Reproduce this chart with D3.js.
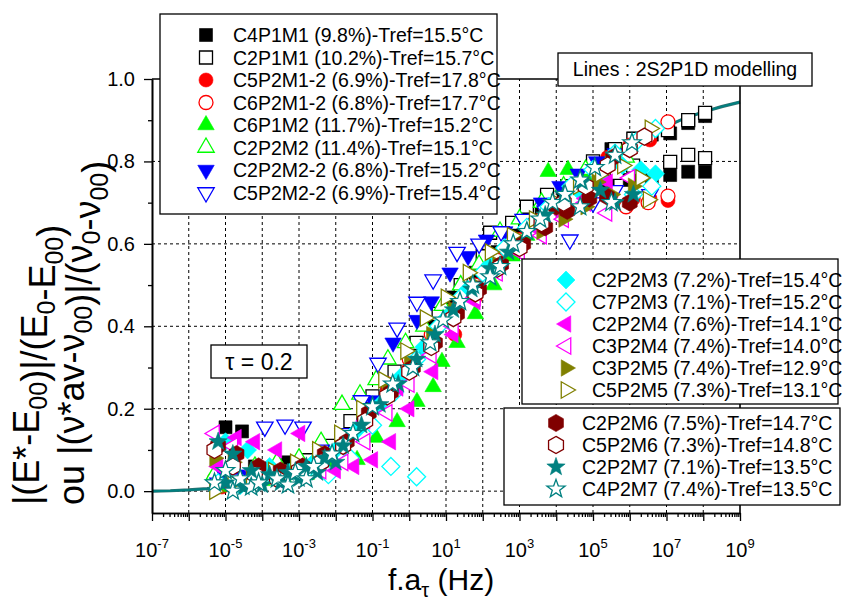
<!DOCTYPE html>
<html><head><meta charset="utf-8">
<script src="https://cdn.jsdelivr.net/npm/d3@7"></script>
<style>
body{margin:0;background:#fff}
svg{display:block}
text{font-family:"Liberation Sans",Arial,Helvetica,sans-serif;fill:#000}
</style>
</head><body>
<svg id="chart" width="844" height="603"></svg>
<script>
// ---------------- DATA (x = log10(f.aT in Hz), y = normalised value) ----------------
const modelLogF = [-7,-6.5,-6,-5.5,-5,-4.5,-4,-3.5,-3,-2.5,-2,-1.5,-1,-0.5,0,0.5,1,1.5,2,2.5,3,3.5,4,4.5,5,5.5,6,6.5,7,7.5,8,8.5,9];
const modelY    = [0,0.001,0.003,0.006,0.010,0.016,0.024,0.035,0.050,0.070,0.098,0.140,0.195,0.250,0.300,0.360,0.420,0.470,0.520,0.565,0.610,0.655,0.700,0.745,0.785,0.815,0.845,0.865,0.885,0.905,0.920,0.933,0.944];

const C4P1M1 = [[-5.0,0.155],[-4.55,0.145],[-4.2,0.06],[-3.8,0.045],[-3.3,0.07],[-2.9,0.065],[-2.3,0.10],[-1.8,0.13],[-1.2,0.19],[-0.6,0.26],[0.0,0.33],[0.6,0.40],[1.2,0.47],[1.8,0.53],[2.4,0.58],[3.0,0.63],[3.6,0.68],[4.2,0.71],[4.8,0.74],[5.4,0.75],[6.0,0.755],[6.6,0.755],[7.1,0.767],[7.59,0.775],[8.05,0.775],[5.5,0.83],[6.1,0.855],[6.6,0.865],[7.1,0.868],[7.59,0.893],[8.05,0.91]];
const C2P1M1 = [[-5.2,0.02],[-4.7,0.03],[-4.0,0.035],[-3.4,0.05],[-2.8,0.075],[-2.2,0.11],[-1.6,0.17],[-1.0,0.23],[-0.4,0.29],[0.2,0.36],[0.8,0.43],[1.4,0.50],[2.0,0.57],[2.2,0.627],[2.8,0.651],[3.2,0.69],[3.75,0.719],[4.3,0.74],[5.1,0.76],[5.65,0.772],[6.09,0.79],[7.1,0.799],[7.59,0.816],[8.05,0.808],[5.0,0.80],[5.6,0.83],[6.1,0.855],[7.04,0.876],[7.59,0.90],[8.05,0.918]];
const C5P2M1_2 = [[-5.1,0.01],[-4.6,0.02],[-4.0,0.03],[-3.5,0.04],[-3.0,0.06],[-2.4,0.08],[-1.8,0.12],[-1.2,0.18],[-0.6,0.24],[0.0,0.30],[0.6,0.35],[1.24,0.38],[1.8,0.47],[2.4,0.55],[3.0,0.60],[3.6,0.64],[4.2,0.68],[4.8,0.71],[5.5,0.72],[6.1,0.71],[6.55,0.71],[7.04,0.705],[5.4,0.81],[6.0,0.84],[6.55,0.852]];
const C6P2M1_2 = [[-5.3,0.03],[-4.8,0.04],[-4.2,0.05],[-3.6,0.06],[-3.0,0.07],[-2.4,0.09],[-1.8,0.13],[-1.2,0.19],[-0.6,0.26],[0.0,0.32],[0.6,0.38],[1.2,0.44],[1.8,0.50],[2.4,0.56],[3.0,0.61],[3.6,0.66],[4.2,0.70],[4.8,0.75],[5.4,0.79],[6.0,0.83],[6.5,0.86],[7.04,0.896],[5.9,0.69],[6.5,0.70],[7.04,0.716]];
const C6P1M2 = [[-5.2,0.01],[-4.6,0.02],[-4.0,0.025],[-3.4,0.03],[-2.8,0.04],[-2.2,0.06],[-1.42,0.076],[-0.9,0.13],[-0.33,0.168],[0.21,0.217],[0.65,0.253],[0.89,0.314],[1.3,0.36],[1.8,0.43],[2.3,0.50],[2.8,0.57],[3.2,0.62],[3.78,0.775],[4.32,0.78],[4.8,0.76],[5.24,0.76],[5.8,0.82]];
const C2P2M2 = [[-5.3,0.04],[-4.8,0.05],[-4.2,0.06],[-3.6,0.07],[-3.0,0.08],[-2.4,0.12],[-1.83,0.21],[-1.34,0.235],[-0.9,0.27],[-0.58,0.32],[-0.1,0.36],[0.4,0.40],[0.9,0.45],[1.4,0.50],[1.9,0.55],[2.47,0.63],[3.0,0.66],[3.6,0.70],[4.2,0.74],[4.8,0.78],[5.4,0.80],[5.9,0.81]];
const C2P2M2_2 = [[-5.1,0.05],[-4.6,0.04],[-4.0,0.03],[-3.4,0.04],[-2.8,0.06],[-2.2,0.09],[-1.6,0.13],[-1.0,0.22],[-0.44,0.36],[0.21,0.415],[0.6,0.46],[1.11,0.53],[1.6,0.57],[2.1,0.61],[2.6,0.63],[3.1,0.66],[3.6,0.70],[4.1,0.74],[4.6,0.77],[5.1,0.80],[5.6,0.82]];
const C5P2M2_2 = [[-5.2,0.02],[-4.7,0.03],[-3.93,0.156],[-3.38,0.161],[-2.89,0.156],[-2.4,0.10],[-1.8,0.14],[-1.3,0.22],[-0.85,0.311],[-0.33,0.396],[0.21,0.459],[0.65,0.513],[1.3,0.58],[1.9,0.60],[2.5,0.63],[3.1,0.66],[3.7,0.68],[4.37,0.61],[5.0,0.70],[5.6,0.73],[6.55,0.72]];
const C2P2M3 = [[-5.0,0.12],[-4.4,0.10],[-3.8,0.06],[-3.2,0.05],[-2.6,0.07],[-2.0,0.10],[-1.4,0.15],[-0.8,0.21],[-0.2,0.28],[0.4,0.35],[1.0,0.42],[1.6,0.49],[2.2,0.55],[2.8,0.60],[3.4,0.65],[4.0,0.69],[4.6,0.73],[5.2,0.76],[5.8,0.79],[6.3,0.78],[6.7,0.77]];
const C7P2M3 = [[-5.2,0.02],[-4.6,0.015],[-4.0,0.03],[-3.4,0.04],[-2.8,0.05],[-2.2,0.04],[-1.6,0.08],[-1.0,0.16],[-0.5,0.06],[0.2,0.035],[-0.4,0.24],[0.2,0.32],[0.8,0.40],[1.4,0.47],[2.0,0.53],[2.6,0.59],[3.2,0.64],[3.8,0.69],[4.4,0.74],[5.0,0.78],[5.6,0.82],[6.2,0.85],[6.7,0.88],[6.1,0.72],[6.6,0.74]];
const C2P2M4 = [[-5.2,0.06],[-4.7,0.13],[-4.2,0.12],[-3.6,0.10],[-2.97,0.14],[-2.5,0.06],[-2.0,0.05],[-1.5,0.06],[-1.2,0.17],[-0.99,0.076],[-0.5,0.12],[-0.3,0.25],[0.0,0.20],[0.65,0.29],[1.2,0.38],[1.8,0.46],[2.4,0.53],[3.0,0.58],[3.6,0.63],[4.2,0.67],[4.8,0.71],[5.4,0.75]];
const C3P2M4 = [[-5.3,0.14],[-4.8,0.11],[-4.2,0.05],[-3.6,0.03],[-3.0,0.04],[-2.4,0.05],[-1.8,0.07],[-1.2,0.12],[-0.6,0.19],[0.0,0.26],[0.6,0.33],[1.2,0.40],[1.8,0.47],[2.4,0.53],[3.0,0.58],[3.6,0.62],[4.2,0.66],[4.8,0.70],[5.38,0.675],[6.0,0.76]];
const C3P2M5 = [[-5.3,0.08],[-4.8,0.07],[-4.2,0.05],[-3.6,0.04],[-3.0,0.05],[-2.4,0.08],[-1.8,0.12],[-1.2,0.18],[-0.6,0.25],[0.0,0.31],[0.6,0.38],[1.2,0.44],[1.8,0.50],[2.4,0.55],[3.0,0.60],[3.6,0.63],[4.2,0.66],[4.8,0.69],[5.1,0.75],[5.5,0.72],[6.09,0.74]];
const C5P2M5 = [[-5.3,0.0],[-4.8,0.02],[-4.3,0.03],[-3.7,0.05],[-3.1,0.07],[-2.5,0.10],[-1.9,0.14],[-1.3,0.20],[-0.7,0.27],[-0.1,0.34],[0.43,0.42],[1.0,0.47],[1.6,0.53],[2.2,0.58],[2.8,0.62],[3.4,0.66],[4.0,0.70],[4.6,0.74],[5.2,0.77],[5.8,0.79],[6.55,0.88],[6.3,0.76],[6.5,0.707]];
const C2P2M6 = [[-5.2,0.11],[-4.7,0.09],[-4.1,0.06],[-3.5,0.05],[-2.9,0.06],[-2.3,0.09],[-1.7,0.12],[-1.1,0.19],[-0.5,0.24],[0.1,0.30],[0.7,0.36],[1.3,0.43],[1.9,0.49],[2.5,0.55],[3.1,0.60],[3.7,0.64],[4.0,0.69],[4.3,0.68],[4.9,0.71],[5.38,0.715],[6.0,0.70],[5.55,0.81]];
const C5P2M6 = [[-5.3,0.10],[-4.8,0.06],[-4.2,0.04],[-3.6,0.03],[-3.0,0.05],[-2.4,0.07],[-1.8,0.11],[-1.2,0.17],[-0.6,0.23],[0.0,0.29],[0.6,0.35],[1.2,0.42],[1.8,0.48],[2.4,0.54],[3.0,0.59],[3.6,0.65],[4.2,0.70],[4.8,0.74],[5.4,0.79],[6.0,0.83],[6.4,0.86]];
const C2P2M7 = [[-5.2,0.12],[-5.0,0.02],[-4.8,0.09],[-4.5,0.01],[-4.3,0.05],[-4.0,0.015],[-3.8,0.04],[-3.5,0.02],[-3.3,0.045],[-3.0,0.03],[-2.8,0.06],[-2.5,0.045],[-2.3,0.08],[-2.0,0.07],[-1.8,0.11],[-1.3,0.16],[-0.8,0.21],[-0.3,0.26],[0.2,0.32],[0.7,0.38],[1.2,0.44],[1.7,0.49],[2.2,0.54],[2.7,0.58],[3.2,0.63],[3.7,0.67],[4.2,0.72],[4.7,0.75],[5.2,0.73],[5.6,0.70],[6.1,0.72]];
const C4P2M7 = [[-5.3,0.02],[-5.0,0.05],[-4.8,0.0],[-4.6,0.03],[-4.3,0.01],[-4.1,0.02],[-3.6,0.03],[-3.3,0.015],[-3.1,0.045],[-2.8,0.03],[-2.6,0.06],[-2.1,0.09],[-1.53,0.14],[-1.0,0.205],[-0.45,0.26],[0.1,0.30],[0.57,0.36],[0.92,0.415],[1.38,0.46],[1.73,0.50],[2.2,0.52],[2.47,0.545],[2.83,0.60],[3.2,0.63],[3.56,0.66],[3.9,0.70],[4.24,0.72],[4.65,0.755],[5.05,0.785],[5.6,0.815],[6.06,0.845],[5.5,0.70],[4.65,0.69]];

const seriesLabels = [
 "C4P1M1 (9.8%)-Tref=15.5°C","C2P1M1 (10.2%)-Tref=15.7°C","C5P2M1-2 (6.9%)-Tref=17.8°C","C6P2M1-2 (6.8%)-Tref=17.7°C",
 "C6P1M2 (11.7%)-Tref=15.2°C","C2P2M2 (11.4%)-Tref=15.1°C","C2P2M2-2 (6.8%)-Tref=15.2°C","C5P2M2-2 (6.9%)-Tref=15.4°C",
 "C2P2M3 (7.2%)-Tref=15.4°C","C7P2M3 (7.1%)-Tref=15.2°C","C2P2M4 (7.6%)-Tref=14.1°C","C3P2M4 (7.4%)-Tref=14.0°C",
 "C3P2M5 (7.4%)-Tref=12.9°C","C5P2M5 (7.3%)-Tref=13.1°C",
 "C2P2M6 (7.5%)-Tref=14.7°C","C5P2M6 (7.3%)-Tref=14.8°C","C2P2M7 (7.1%)-Tref=13.5°C","C4P2M7 (7.4%)-Tref=13.5°C"];
const seriesData = [C4P1M1,C2P1M1,C5P2M1_2,C6P2M1_2,C6P1M2,C2P2M2,C2P2M2_2,C5P2M2_2,C2P2M3,C7P2M3,C2P2M4,C3P2M4,C3P2M5,C5P2M5,C2P2M6,C5P2M6,C2P2M7,C4P2M7];
const xTickExp = [-7,-5,-3,-1,1,3,5,7,9];
const yTickLabels = ["0.0","0.2","0.4","0.6","0.8","1.0"];
const yTickValues = [0,0.2,0.4,0.6,0.8,1.0];

// ---------------- STYLES ----------------
const seriesStyle = [
 {shape:"square",color:"#000000",filled:true},{shape:"square",color:"#000000",filled:false},
 {shape:"circle",color:"#ff0000",filled:true},{shape:"circle",color:"#ff0000",filled:false},
 {shape:"triUp",color:"#00ff00",filled:true},{shape:"triUp",color:"#00ff00",filled:false},
 {shape:"triDown",color:"#0000ff",filled:true},{shape:"triDown",color:"#0000ff",filled:false},
 {shape:"diamond",color:"#00ffff",filled:true},{shape:"diamond",color:"#00ffff",filled:false},
 {shape:"triLeft",color:"#ff00ff",filled:true},{shape:"triLeft",color:"#ff00ff",filled:false},
 {shape:"triRight",color:"#808000",filled:true},{shape:"triRight",color:"#808000",filled:false},
 {shape:"hexagon",color:"#800000",filled:true},{shape:"hexagon",color:"#800000",filled:false},
 {shape:"star",color:"#008080",filled:true},{shape:"star",color:"#008080",filled:false}];

function poly(pts){return "M"+pts.map(p=>p[0].toFixed(2)+","+p[1].toFixed(2)).join("L")+"Z";}
function shapePath(s){
  const R=9.5;
  switch(s){
    case "square": return "M-6.5,-6.5H6.5V6.5H-6.5Z";
    case "circle": return "M7,0A7,7 0 1,1 -7,0A7,7 0 1,1 7,0Z";
    case "diamond": return poly([[0,-9],[9,0],[0,9],[-9,0]]);
    case "hexagon": {const p=[];for(let k=0;k<6;k++){const a=(-90+60*k)*Math.PI/180;p.push([8.6*Math.cos(a),8.6*Math.sin(a)]);}return poly(p);}
    case "star": {const p=[];for(let k=0;k<10;k++){const a=(-90+36*k)*Math.PI/180,r=k%2?3.9:9.6;p.push([r*Math.cos(a),r*Math.sin(a)]);}return poly(p);}
    default: {
      const rot={triUp:-90,triDown:90,triLeft:180,triRight:0}[s];const p=[];
      for(let k=0;k<3;k++){const a=(rot+120*k)*Math.PI/180;p.push([R*Math.cos(a),R*Math.sin(a)]);}
      return poly(p);
    }
  }
}

// ---------------- CHART ----------------
const svg = d3.select("#chart");
const L=152,Rt=740,T=79,B=513;
const x = d3.scaleLog().domain([1e-7,1e9]).range([L,Rt]);
const y = d3.scaleLinear().domain([-0.053,1.0]).range([B,T]);
const fx = e => x(Math.pow(10,e));

svg.append("rect").attr("width",844).attr("height",603).attr("fill","#fff");

// grid
const grid = svg.append("g").attr("stroke","#000").attr("stroke-width",1).attr("stroke-dasharray","3,3");
d3.range(-6,9).forEach(e=>grid.append("line").attr("x1",fx(e)).attr("x2",fx(e)).attr("y1",B).attr("y2",T));
[0,0.2,0.4,0.6,0.8].forEach(v=>grid.append("line").attr("x1",L).attr("x2",Rt).attr("y1",y(v)).attr("y2",y(v)));

// model line
const modelPts = modelLogF.map((e,i)=>[e,modelY[i]]);
svg.append("path").datum(modelPts)
  .attr("d",d3.line().x(d=>fx(d[0])).y(d=>y(d[1])))
  .attr("fill","none").attr("stroke","#2f6f6f").attr("stroke-width",3.2);
svg.append("path").datum(modelPts)
  .attr("d",d3.line().x(d=>fx(d[0])).y(d=>y(d[1])))
  .attr("fill","none").attr("stroke","#008080").attr("stroke-width",2);

// points
seriesData.forEach((data,i)=>{
  const st=seriesStyle[i];
  svg.append("g").selectAll("path").data(data).join("path")
    .attr("transform",d=>`translate(${fx(d[0])},${y(d[1])})`)
    .attr("d",shapePath(st.shape))
    .attr("fill",st.filled?st.color:"#fff")
    .attr("stroke",st.color).attr("stroke-width",st.filled?0.6:1.3);
});

// axes
const majorX = d3.range(-7,10).map(e=>Math.pow(10,e));
const minorX = [];
d3.range(-7,9).forEach(e=>{for(let m=2;m<10;m++)minorX.push(m*Math.pow(10,e));});
const ax1 = svg.append("g").attr("transform",`translate(0,${B})`).call(d3.axisBottom(x).tickValues(majorX).tickSize(8).tickFormat("").tickSizeOuter(0));
const ax2 = svg.append("g").attr("transform",`translate(0,${B})`).call(d3.axisBottom(x).tickValues(minorX).tickSize(4).tickFormat("").tickSizeOuter(0));
const ay1 = svg.append("g").attr("transform",`translate(${L},0)`).call(d3.axisLeft(y).tickValues(yTickValues).tickSize(8).tickFormat("").tickSizeOuter(0));
const ay2 = svg.append("g").attr("transform",`translate(${L},0)`).call(d3.axisLeft(y).tickValues([0.1,0.3,0.5,0.7,0.9]).tickSize(4).tickFormat("").tickSizeOuter(0));
[ax1,ax2,ay1,ay2].forEach(g=>{g.selectAll("line").attr("stroke","#000").attr("stroke-width",1.3);g.select(".domain").attr("stroke","#000").attr("stroke-width",1.6);});
// frame right/top
svg.append("line").attr("x1",Rt).attr("x2",Rt).attr("y1",T).attr("y2",B).attr("stroke","#000").attr("stroke-width",1.6);
svg.append("line").attr("x1",L).attr("x2",Rt).attr("y1",T).attr("y2",T).attr("stroke","#000").attr("stroke-width",1.6);

// tick labels
xTickExp.forEach(e=>{
  const t=svg.append("text").attr("x",fx(e)).attr("y",557).attr("text-anchor","middle").attr("font-size",20);
  t.append("tspan").text("10");
  t.append("tspan").attr("dy",-9).attr("font-size",13).text(e<0?"-"+(-e):String(e));
});
yTickValues.forEach((v,i)=>{
  svg.append("text").attr("x",135).attr("y",y(v)+7).attr("text-anchor","end").attr("font-size",20).text(yTickLabels[i]);
});

// axis titles
const xt = svg.append("text").attr("x",441).attr("y",590).attr("text-anchor","middle").attr("font-size",30);
xt.append("tspan").text("f.a");
xt.append("tspan").attr("dy",7).attr("font-size",20).text("τ");
xt.append("tspan").attr("dy",-7).text(" (Hz)");

function titleLine(tx, parts){
  const t=svg.append("text").attr("transform",`translate(${tx},505) rotate(-90)`).attr("font-size",36);
  parts.forEach(p=>{
    if(p.sub){t.append("tspan").attr("dy",8).attr("font-size",25).text(p.s);t.append("tspan").attr("dy",-8).text("");}
    else t.append("tspan").text(p.s);
  });
}
titleLine(39,[{s:"|(E*-E"},{s:"00",sub:1},{s:")|/(E"},{s:"0",sub:1},{s:"-E"},{s:"00",sub:1},{s:")"}]);
titleLine(84,[{s:"ou |(ν*av-ν"},{s:"00",sub:1},{s:")|/(ν"},{s:"0",sub:1},{s:"-ν"},{s:"00",sub:1},{s:")"}]);

// legends
function legend(x0,y0,x1,y1,idx,symX,txtX,row0,step){
  svg.append("rect").attr("x",x0).attr("y",y0).attr("width",x1-x0).attr("height",y1-y0)
    .attr("fill","#fff").attr("stroke","#000").attr("stroke-width",1.3);
  idx.forEach((si,k)=>{
    const st=seriesStyle[si], cy=row0+k*step;
    svg.append("path").attr("transform",`translate(${symX},${cy})`).attr("d",shapePath(st.shape))
      .attr("fill",st.filled?st.color:"#fff").attr("stroke",st.color).attr("stroke-width",st.filled?0.6:1.3);
    svg.append("text").attr("x",txtX).attr("y",cy+7).attr("font-size",19.5).text(seriesLabels[si]);
  });
}
legend(160,14,497,214,[0,1,2,3,4,5,6,7],206,233,35,22.5);
legend(522,259,838,404,[8,9,10,11,12,13],566,592,280,22);
legend(504,408,840,505,[14,15,16,17],556,582,423,22);

// annotation boxes
svg.append("rect").attr("x",558).attr("y",53).attr("width",254).attr("height",33).attr("fill","#fff").attr("stroke","#000").attr("stroke-width",1.3);
svg.append("text").attr("x",685).attr("y",76).attr("text-anchor","middle").attr("font-size",19.5).text("Lines : 2S2P1D modelling");
svg.append("rect").attr("x",211).attr("y",345).attr("width",96).attr("height",33).attr("fill","#fff").attr("stroke","#000").attr("stroke-width",1.3);
svg.append("text").attr("x",259).attr("y",370).attr("text-anchor","middle").attr("font-size",23).text("τ = 0.2");
</script>
</body></html>
